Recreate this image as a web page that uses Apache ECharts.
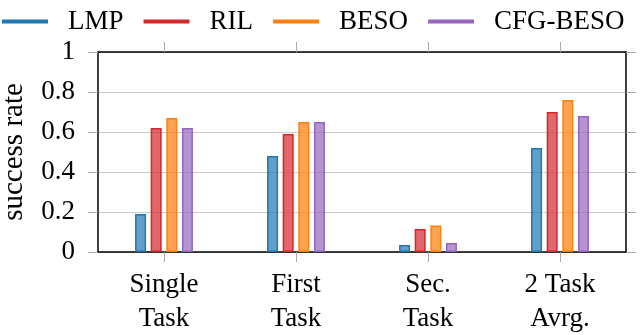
<!DOCTYPE html>
<html>
<head>
<meta charset="utf-8">
<script src="https://cdn.jsdelivr.net/npm/echarts@6/dist/echarts.min.js"></script>
<style>
html,body{margin:0;padding:0;background:#fff;}
#main{width:640px;height:335px;}
</style>
</head>
<body>
<div id="main"></div>
<script>
// data
var categories = ['Single\nTask', 'First\nTask', 'Sec.\nTask', '2 Task\nAvrg.'];
var seriesNames = ['LMP', 'RIL', 'BESO', 'CFG-BESO'];
var lmp = [0.19, 0.48, 0.035, 0.52];
var ril = [0.62, 0.59, 0.115, 0.70];
var beso = [0.67, 0.65, 0.133, 0.76];
var cfgBeso = [0.62, 0.65, 0.045, 0.68];

var font = 'Liberation Serif';
var tickGray = '#aaaaaa';
var colors = ['#1f77b4', '#d62728', '#ff7f0e', '#9467bd'];
var fills = ['rgba(31,119,180,0.7)', 'rgba(214,39,40,0.7)', 'rgba(255,127,14,0.72)', 'rgba(148,103,189,0.7)'];

function barSeries(i, data){
    return {
        name: seriesNames[i],
        type: 'bar',
        data: data,
        xAxisIndex: 0,
        yAxisIndex: 0,
        barWidth: 11,
        barGap: '42%',
        itemStyle: {
            color: fills[i],
            borderColor: colors[i],
            borderWidth: 1.5
        }
    };
}

var myChart = echarts.init(document.getElementById('main'));
var option = {
    animation: false,
    textStyle: {fontFamily: font},
    legend: {
        left: 2,
        top: 8,
        padding: 0,
        icon: 'rect',
        itemWidth: 46,
        itemHeight: 4,
        itemGap: 20,
        itemStyle: {borderWidth: 0},
        textStyle: {fontFamily: font, fontSize: 27, color: '#000', padding: [0, 0, 0, 15]},
        data: seriesNames.map(function(n, i){
            return {name: n, itemStyle: {color: colors[i], borderWidth: 0}};
        })
    },
    grid: {
        left: 98,
        right: 14,
        top: 52,
        bottom: 83,
        containLabel: false,
        outerBoundsMode: 'none'
    },
    xAxis: [
        {
            type: 'category',
            position: 'bottom',
            data: categories,
            axisLine: {show: true, onZero: false, lineStyle: {color: '#000', width: 1.5}},
            axisTick: {show: true, inside: false, alignWithLabel: true, length: 10, lineStyle: {color: tickGray}},
            axisLabel: {
                fontFamily: font,
                fontSize: 27,
                color: '#000',
                margin: 16,
                lineHeight: 34
            }
        },
        {
            type: 'category',
            position: 'top',
            data: categories,
            axisLine: {show: true, onZero: false, lineStyle: {color: '#000', width: 1.5}},
            axisTick: {show: true, inside: false, alignWithLabel: true, length: 10, lineStyle: {color: tickGray}},
            axisLabel: {show: false}
        }
    ],
    yAxis: [
        {
            type: 'value',
            min: 0,
            max: 1,
            interval: 0.2,
            name: 'success rate',
            nameLocation: 'middle',
            nameGap: 69,
            nameTextStyle: {fontFamily: font, fontSize: 29, color: '#000'},
            axisLine: {show: true, lineStyle: {color: '#000', width: 1.5}},
            axisTick: {show: true, length: 10, lineStyle: {color: tickGray}},
            axisLabel: {
                fontFamily: font,
                fontSize: 27,
                color: '#000',
                margin: 23
            },
            splitLine: {show: true, lineStyle: {color: '#cccccc', width: 1}}
        },
        {
            type: 'value',
            position: 'right',
            min: 0,
            max: 1,
            interval: 0.2,
            axisLine: {show: true, lineStyle: {color: '#000', width: 1.5}},
            axisTick: {show: true, length: 10, lineStyle: {color: tickGray}},
            axisLabel: {show: false},
            splitLine: {show: false}
        }
    ],
    series: [
        barSeries(0, lmp),
        barSeries(1, ril),
        barSeries(2, beso),
        barSeries(3, cfgBeso)
    ]
};

myChart.setOption(option);
</script>
</body>
</html>
